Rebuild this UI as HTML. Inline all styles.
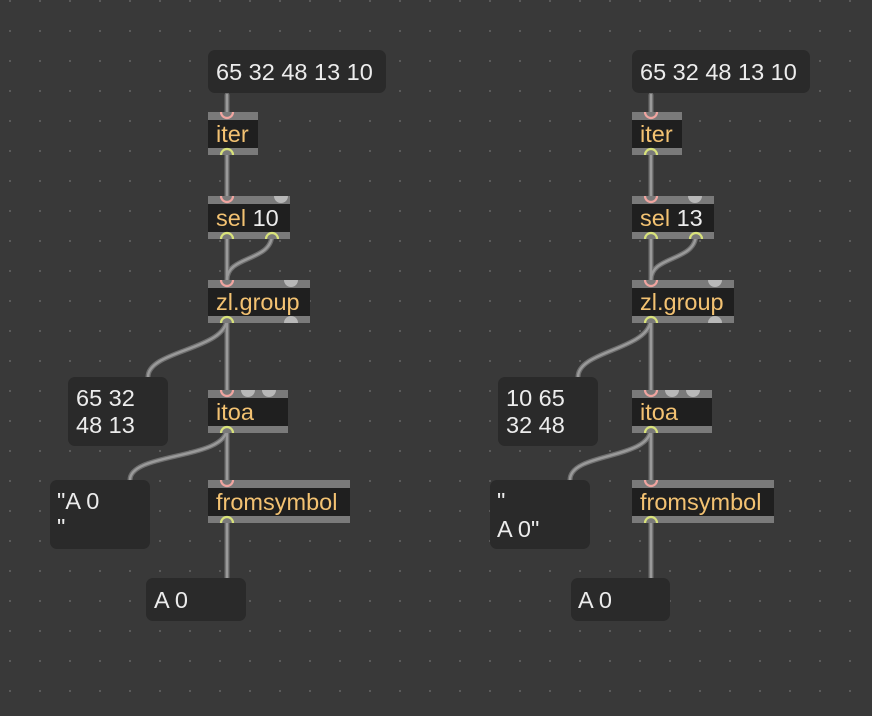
<!DOCTYPE html>
<html><head><meta charset="utf-8"><style>
html,body{margin:0;padding:0;background:#393939;}
svg{display:block}
text{font-family:"Liberation Sans",Arial,sans-serif;font-size:23.5px;}
.o{fill:#f3c272}.w{fill:#ececec}
.bar{fill:#7a7a7a}.body{fill:#1f1f1f}
.msg{fill:#2a2a2a}
.c{fill:none;stroke:#6e6e6e;stroke-width:5;stroke-linecap:round}
.ci{fill:none;stroke:#9a9a9a;stroke-width:2.4;stroke-linecap:round}
.in{fill:none;stroke:#f0a5a0;stroke-width:2.2}
.out{fill:none;stroke:#d8e27a;stroke-width:2.2}
.g{fill:#b8b8b8}
</style></head><body>
<svg width="872" height="716" viewBox="0 0 872 716" xmlns="http://www.w3.org/2000/svg">
<defs>
<pattern id="dots" x="9" y="0" width="30" height="30" patternUnits="userSpaceOnUse">
<rect x="0" y="0" width="2" height="2" fill="#5a5a5a"/>
</pattern>
<g id="cords">
<path d="M227,95 V113"/>
<path d="M227,150 V196"/>
<path d="M227,234 V280"/>
<path d="M272,234 C272,262 227,255 227,280"/>
<path d="M227,318 V390"/>
<path d="M227,318 C227,350 148,350 148,377"/>
<path d="M227,428 V480"/>
<path d="M227,428 C227,460 130,452 130,480"/>
<path d="M227,518 V578"/>
</g>
<g id="cordsR">
<path d="M651,95 V113"/>
<path d="M651,150 V196"/>
<path d="M651,234 V280"/>
<path d="M696,234 C696,262 651,255 651,280"/>
<path d="M651,318 V390"/>
<path d="M651,318 C651,350 578,350 578,377"/>
<path d="M651,428 V480"/>
<path d="M651,428 C651,460 570,452 570,480"/>
<path d="M651,518 V578"/>
</g>
</defs>
<rect width="872" height="716" fill="#393939"/>
<rect width="872" height="716" fill="url(#dots)"/>

<use href="#cords" class="c"/><use href="#cords" class="ci"/>
<use href="#cordsR" class="c"/><use href="#cordsR" class="ci"/>

<!-- LEFT -->
<rect class="msg" x="208" y="50" width="178" height="43" rx="7"/>
<text class="w" x="216" y="80">65 32 48 13 10</text>

<rect class="bar" x="208" y="112" width="50" height="43"/><rect class="body" x="208" y="120" width="50" height="28"/>
<text class="o" x="216" y="142">iter</text>
<path class="in" d="M221,112 A6,6 0 0 0 233,112"/><path class="out" d="M221,155 A6,6 0 0 1 233,155"/>

<rect class="bar" x="208" y="196" width="82" height="43"/><rect class="body" x="208" y="204" width="82" height="28"/>
<text x="216" y="226"><tspan class="o">sel</tspan><tspan class="w"> 10</tspan></text>
<path class="in" d="M221,196 A6,6 0 0 0 233,196"/><path class="g" d="M274,196 A7,7 0 0 0 288,196Z"/>
<path class="out" d="M221,239 A6,6 0 0 1 233,239"/><path class="out" d="M266,239 A6,6 0 0 1 278,239"/>

<rect class="bar" x="208" y="280" width="102" height="43"/><rect class="body" x="208" y="288" width="102" height="28"/>
<text class="o" x="216" y="310">zl.group</text>
<path class="in" d="M221,280 A6,6 0 0 0 233,280"/><path class="g" d="M284,280 A7,7 0 0 0 298,280Z"/>
<path class="out" d="M221,323 A6,6 0 0 1 233,323"/><path class="g" d="M284,323 A7,7 0 0 1 298,323Z"/>

<rect class="msg" x="68" y="377" width="100" height="69" rx="7"/>
<text class="w" x="76" y="406">65 32</text><text class="w" x="76" y="433">48 13</text>

<rect class="bar" x="208" y="390" width="80" height="43"/><rect class="body" x="208" y="398" width="80" height="28"/>
<text class="o" x="216" y="420">itoa</text>
<path class="in" d="M221,390 A6,6 0 0 0 233,390"/><path class="g" d="M241,390 A7,7 0 0 0 255,390Z"/><path class="g" d="M262,390 A7,7 0 0 0 276,390Z"/>
<path class="out" d="M221,433 A6,6 0 0 1 233,433"/>

<rect class="msg" x="50" y="480" width="100" height="69" rx="7"/>
<text class="w" x="57" y="509">"A 0</text><text class="w" x="57" y="535">"</text>

<rect class="bar" x="208" y="480" width="142" height="43"/><rect class="body" x="208" y="488" width="142" height="28"/>
<text class="o" x="216" y="510">fromsymbol</text>
<path class="in" d="M221,480 A6,6 0 0 0 233,480"/><path class="out" d="M221,523 A6,6 0 0 1 233,523"/>

<rect class="msg" x="146" y="578" width="100" height="43" rx="7"/>
<text class="w" x="154" y="608">A 0</text>

<!-- RIGHT -->
<rect class="msg" x="632" y="50" width="178" height="43" rx="7"/>
<text class="w" x="640" y="80">65 32 48 13 10</text>

<rect class="bar" x="632" y="112" width="50" height="43"/><rect class="body" x="632" y="120" width="50" height="28"/>
<text class="o" x="640" y="142">iter</text>
<path class="in" d="M645,112 A6,6 0 0 0 657,112"/><path class="out" d="M645,155 A6,6 0 0 1 657,155"/>

<rect class="bar" x="632" y="196" width="82" height="43"/><rect class="body" x="632" y="204" width="82" height="28"/>
<text x="640" y="226"><tspan class="o">sel</tspan><tspan class="w"> 13</tspan></text>
<path class="in" d="M645,196 A6,6 0 0 0 657,196"/><path class="g" d="M688,196 A7,7 0 0 0 702,196Z"/>
<path class="out" d="M645,239 A6,6 0 0 1 657,239"/><path class="out" d="M690,239 A6,6 0 0 1 702,239"/>

<rect class="bar" x="632" y="280" width="102" height="43"/><rect class="body" x="632" y="288" width="102" height="28"/>
<text class="o" x="640" y="310">zl.group</text>
<path class="in" d="M645,280 A6,6 0 0 0 657,280"/><path class="g" d="M708,280 A7,7 0 0 0 722,280Z"/>
<path class="out" d="M645,323 A6,6 0 0 1 657,323"/><path class="g" d="M708,323 A7,7 0 0 1 722,323Z"/>

<rect class="msg" x="498" y="377" width="100" height="69" rx="7"/>
<text class="w" x="506" y="406">10 65</text><text class="w" x="506" y="433">32 48</text>

<rect class="bar" x="632" y="390" width="80" height="43"/><rect class="body" x="632" y="398" width="80" height="28"/>
<text class="o" x="640" y="420">itoa</text>
<path class="in" d="M645,390 A6,6 0 0 0 657,390"/><path class="g" d="M665,390 A7,7 0 0 0 679,390Z"/><path class="g" d="M686,390 A7,7 0 0 0 700,390Z"/>
<path class="out" d="M645,433 A6,6 0 0 1 657,433"/>

<rect class="msg" x="490" y="480" width="100" height="69" rx="7"/>
<text class="w" x="497" y="509">"</text><text class="w" x="497" y="537">A 0"</text>

<rect class="bar" x="632" y="480" width="142" height="43"/><rect class="body" x="632" y="488" width="142" height="28"/>
<text class="o" x="640" y="510">fromsymbol</text>
<path class="in" d="M645,480 A6,6 0 0 0 657,480"/><path class="out" d="M645,523 A6,6 0 0 1 657,523"/>

<rect class="msg" x="571" y="578" width="99" height="43" rx="7"/>
<text class="w" x="578" y="608">A 0</text>
</svg>
</body></html>
